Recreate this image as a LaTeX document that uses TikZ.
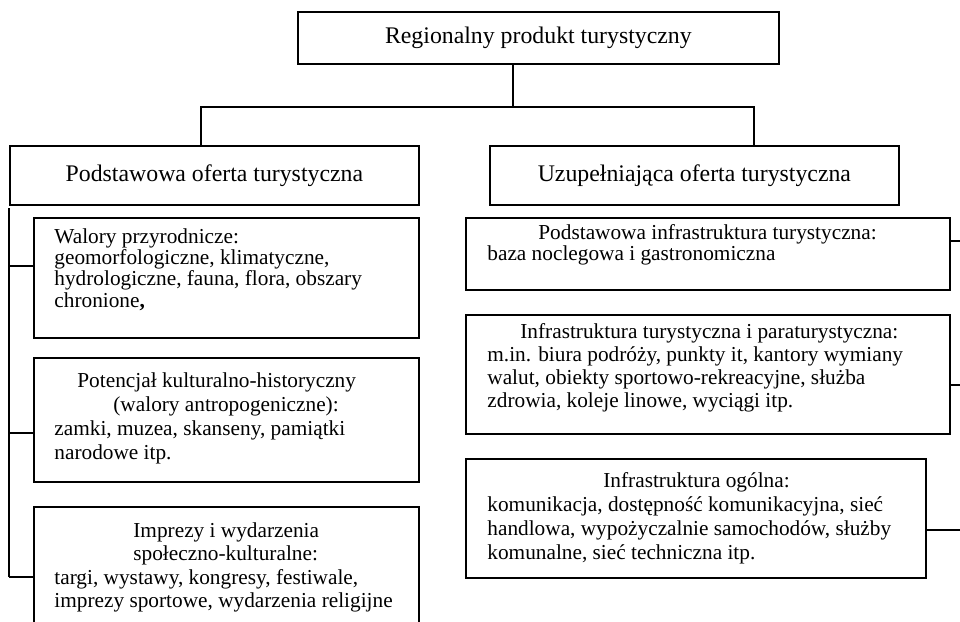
\documentclass[tikz,border=0pt]{standalone}
\usepackage{fontspec}
\setmainfont{Liberation Serif}
\tikzset{
  box/.style={draw, line width=0.9pt, inner sep=0pt, anchor=north west, rectangle},
  head/.style={box, font=\fontsize{11.9}{13}\selectfont},
  txt/.style={inner sep=0pt, anchor=base west},
  wire/.style={line width=0.9pt}
}
\begin{document}
\begin{tikzpicture}[x=0.5pt,y=-0.5pt]
\useasboundingbox (0,0) rectangle (960,622);
\clip (0,0) rectangle (960,622);
% top
\node[head, minimum width=240.5pt, minimum height=26pt] (top) at (297,11) {Regionalny produkt turystyczny};
\node[head, minimum width=204.5pt, minimum height=29.5pt] (lh) at (9,145) {Podstawowa oferta turystyczna};
\node[head, minimum width=204.5pt, minimum height=29.5pt] (rh) at (489,145) {Uzupełniająca oferta turystyczna};
% left boxes
\node[box, minimum width=192.5pt, minimum height=60pt] (b1) at (33,217) {};
\node[box, minimum width=192.5pt, minimum height=62pt] (b2) at (33,357) {};
\node[box, minimum width=192.5pt, minimum height=100pt] (b3) at (33,506) {};
% right boxes
\node[box, minimum width=242pt, minimum height=36pt] (r1) at (465,217) {};
\node[box, minimum width=242pt, minimum height=59.5pt] (r2) at (465,314) {};
\node[box, minimum width=230pt, minimum height=59.5pt] (r3) at (465,458) {};
% texts
\node[txt] (b1t) at (54,243) {\parbox[t]{185pt}{\fontsize{10.65}{10.7}\selectfont
Walory przyrodnicze:\\
geomorfologiczne, klimatyczne,\\
hydrologiczne, fauna, flora, obszary\\
chronione\textbf{,}}};
\node[txt] (b2t) at (54,387) {\parbox[t]{185pt}{\fontsize{10.65}{12.1}\selectfont
\hspace*{11.5pt}Potencjał kulturalno-historyczny\\
\hspace*{29.5pt}(walory antropogeniczne):\\
zamki, muzea, skanseny, pamiątki\\
narodowe itp.}};
\node[txt] (b3t) at (54,537) {\parbox[t]{185pt}{\fontsize{10.65}{11.75}\selectfont
\hspace*{39.5pt}Imprezy i wydarzenia\\
\hspace*{39.5pt}społeczno-kulturalne:\\
targi, wystawy, kongresy, festiwale,\\
imprezy sportowe, wydarzenia religijne}};
\node[txt] (r1t) at (487,239) {\parbox[t]{230pt}{\fontsize{10.65}{10.6}\selectfont
\hspace*{25.5pt}Podstawowa infrastruktura turystyczna:\\
baza noclegowa i gastronomiczna}};
\node[txt] (r2t) at (487,338) {\parbox[t]{230pt}{\fontsize{10.65}{11.5}\selectfont
\hspace*{16.5pt}Infrastruktura turystyczna i paraturystyczna:\\
m.in. biura podróży, punkty it, kantory wymiany\\
walut, obiekty sportowo-rekreacyjne, służba\\
zdrowia, koleje linowe, wyciągi itp.}};
\node[txt] (r3t) at (487,487) {\parbox[t]{220pt}{\fontsize{10.65}{12.1}\selectfont
\hspace*{58pt}Infrastruktura ogólna:\\
komunikacja, dostępność komunikacyjna, sieć\\
handlowa, wypożyczalnie samochodów, służby\\
komunalne, sieć techniczna itp.}};
% connectors top
\coordinate (j) at (513,107);
\coordinate (jl) at (201,107);
\coordinate (jr) at (754,107);
\draw[wire] (top.south -| j) -- (j);
\draw[wire] (lh.north -| jl) -- (jl) -- (jr) -- (rh.north -| jr);
% left bus
\coordinate (bt) at (9,208);
\coordinate (p1) at (9,266);
\coordinate (p2) at (9,433);
\coordinate (p3) at (9,577);
\draw[wire] (bt) -- (p3);
\draw[wire] (p1) -- (p1 -| b1.west);
\draw[wire] (p2) -- (p2 -| b2.west);
\draw[wire] (p3) -- (p3 -| b3.west);
% right stubs
\coordinate (q1) at (965,241);
\coordinate (q2) at (965,385);
\coordinate (q3) at (965,530);
\draw[wire] (q1 -| r1.east) -- (q1);
\draw[wire] (q2 -| r2.east) -- (q2);
\draw[wire] (q3 -| r3.east) -- (q3);
\end{tikzpicture}
\end{document}
